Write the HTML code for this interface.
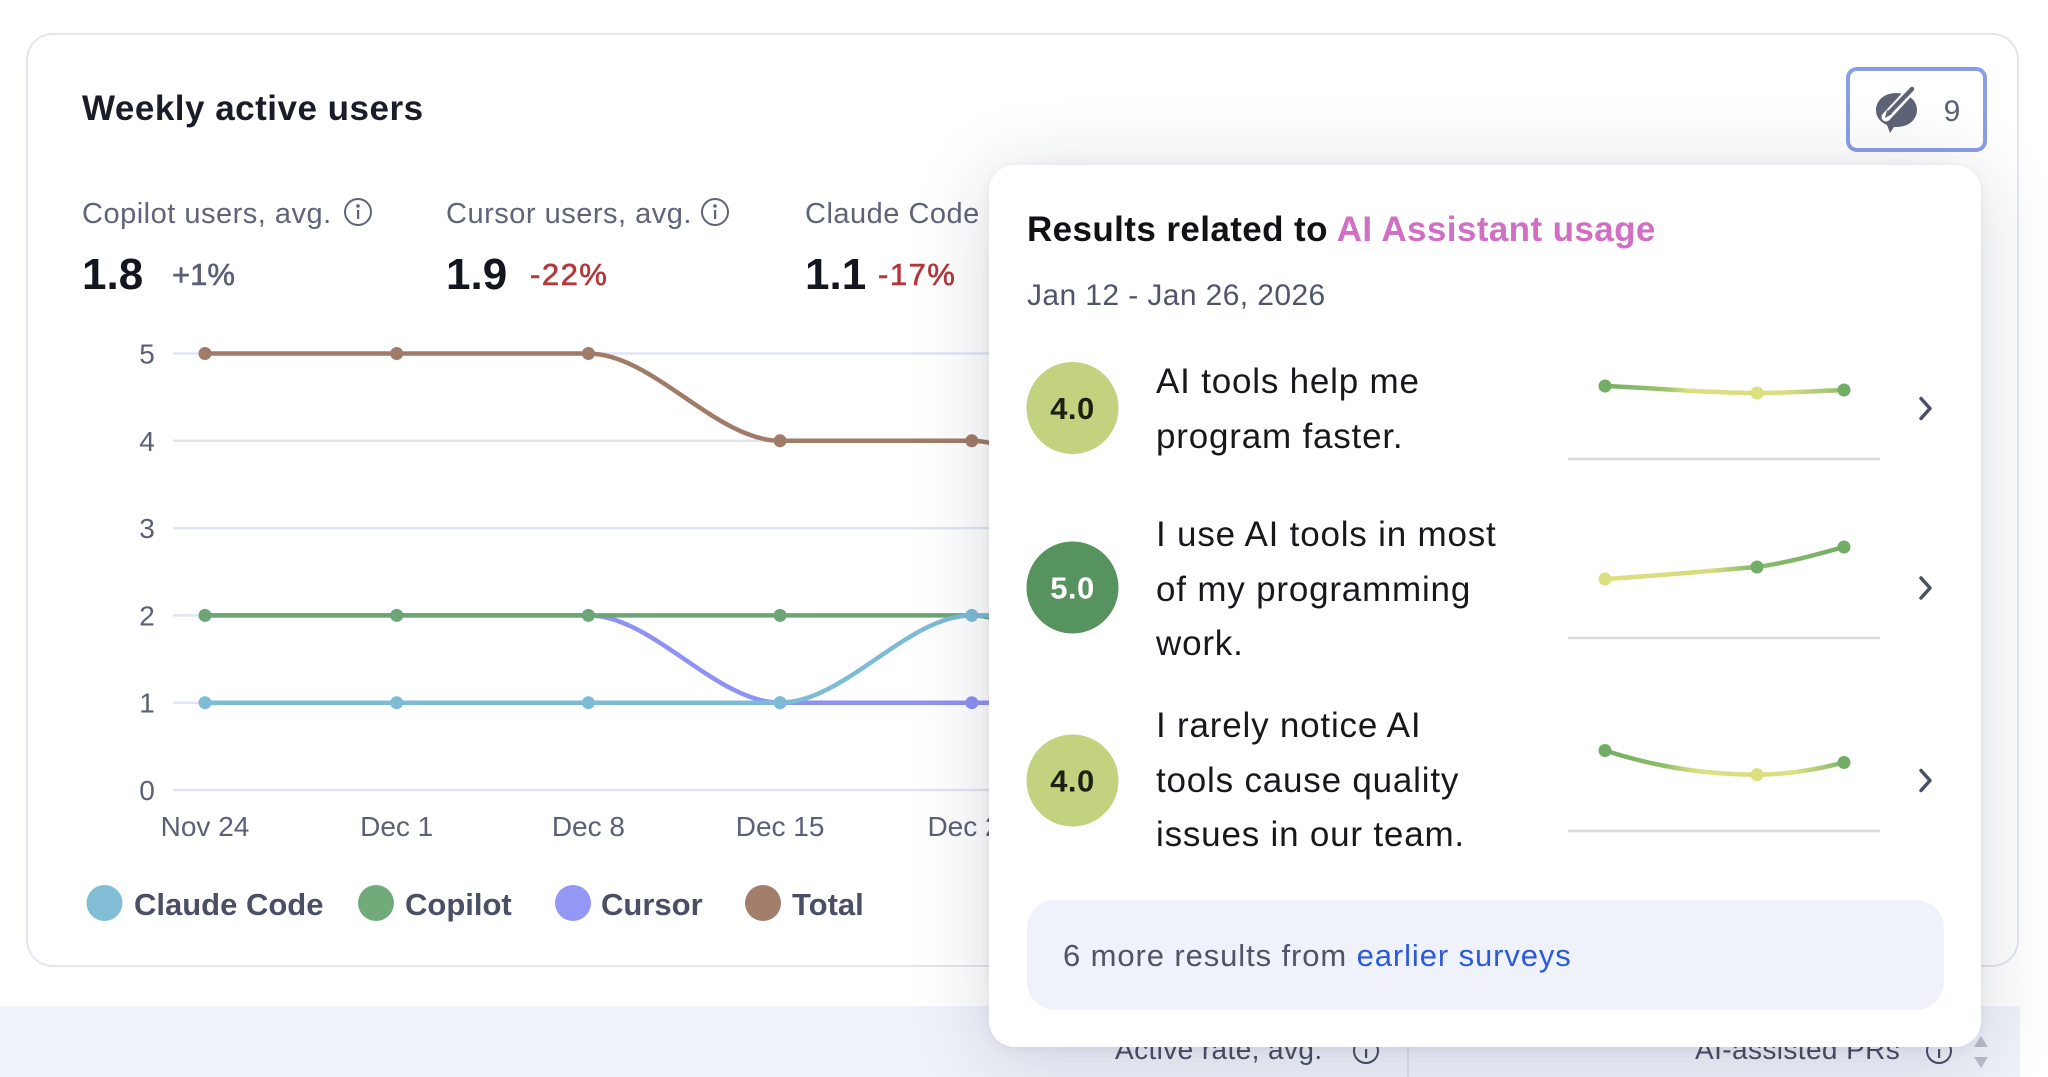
<!DOCTYPE html>
<html><head><meta charset="utf-8"><style>
html,body{margin:0;padding:0;background:#fff;width:2048px;height:1077px;overflow:hidden;font-family:"Liberation Sans",Arial,sans-serif}
svg{position:absolute;left:0;top:0}
#pop{position:absolute;left:989px;top:165px;width:992px;height:882px;border-radius:26px;background:#fff;box-shadow:0 10px 80px rgba(25,30,60,0.16),0 2px 12px rgba(25,30,60,0.06)}
</style></head><body>
<svg width="2048" height="1077" viewBox="0 0 2048 1077" font-family="Liberation Sans, Arial, sans-serif">
  <!-- bottom band -->
  <rect x="0" y="1006" width="2020" height="71" fill="#eff2fa"/>
  <text x="1115" y="1059" font-size="28" fill="#4a4f66" letter-spacing="0.4">Active rate, avg.</text>
  <circle cx="1366" cy="1051" r="12" fill="none" stroke="#4a4f66" stroke-width="2"/>
  <rect x="1365" y="1049" width="2.2" height="9" fill="#4a4f66"/>
  <line x1="1408" y1="1040" x2="1408" y2="1077" stroke="#dde0ea" stroke-width="2"/>
  <text x="1695" y="1059" font-size="28" fill="#4a4f66" letter-spacing="0.4">AI-assisted PRs</text>
  <circle cx="1939" cy="1051" r="12" fill="none" stroke="#4a4f66" stroke-width="2"/>
  <rect x="1938" y="1049" width="2.2" height="9" fill="#4a4f66"/>
  <path d="M1974,1047 L1981,1036 L1988,1047 Z" fill="#b9bdc9"/>
  <path d="M1974,1057 L1981,1068 L1988,1057 Z" fill="#b9bdc9"/>

  <!-- card -->
  <rect x="27" y="34" width="1991" height="932" rx="26" fill="#fff" stroke="#e3e6f2" stroke-width="2"/>
  <text x="82" y="120" font-size="35" font-weight="bold" fill="#1a1c28" letter-spacing="0.5">Weekly active users</text>

  <!-- button -->
  <rect x="1848" y="69" width="137" height="81" rx="9" fill="#fff" stroke="#8a9de8" stroke-width="4"/>
  <path d="M1896,93 C1908,93 1917,100 1917,110 C1917,120 1908,127 1897,127 L1894,127 L1890,133 L1887,125 C1880,122 1876,117 1876,110 C1876,100 1885,93 1896,93 Z" fill="#5f6378"/>
  <line x1="1886" y1="117" x2="1913" y2="88" stroke="#fff" stroke-width="9" stroke-linecap="round"/>
  <line x1="1890" y1="112" x2="1912" y2="89" stroke="#5f6378" stroke-width="4.5" stroke-linecap="round"/>
  <path d="M1885,118 L1887,110 L1892,114 Z" fill="#5f6378"/>
  <text x="1952" y="121" font-size="30" fill="#5b6078" text-anchor="middle">9</text>

  <!-- KPIs -->
  <g font-size="29" fill="#5f6479" letter-spacing="0.5">
    <text x="82" y="223">Copilot users, avg.</text>
    <text x="446" y="223">Cursor users, avg.</text>
    <text x="805" y="223">Claude Code users, avg.</text>
  </g>
  <g fill="none" stroke="#5f6479" stroke-width="2">
    <circle cx="358" cy="212" r="13"/>
    <circle cx="715" cy="212" r="13"/>
  </g>
  <g fill="#5f6479">
    <circle cx="358" cy="206" r="1.8"/><rect x="357" y="210" width="2.2" height="9"/>
    <circle cx="715" cy="206" r="1.8"/><rect x="714" y="210" width="2.2" height="9"/>
  </g>
  <g font-size="44" font-weight="bold" fill="#14161f">
    <text x="82" y="289">1.8</text>
    <text x="446" y="289">1.9</text>
    <text x="805" y="289">1.1</text>
  </g>
  <g font-size="31" stroke-width="0.6">
    <text x="172" y="285" fill="#5b6078" stroke="#5b6078">+1%</text>
    <text x="530" y="285" fill="#b3373b" stroke="#b3373b" letter-spacing="1.5">-22%</text>
    <text x="878" y="285" fill="#b3373b" stroke="#b3373b" letter-spacing="1.5">-17%</text>
  </g>

  <!-- grid -->
  <g stroke="#e1e5f4" stroke-width="2.5">
    <line x1="173" y1="353.5" x2="1900" y2="353.5"/>
    <line x1="173" y1="440.8" x2="1900" y2="440.8"/>
    <line x1="173" y1="528.1" x2="1900" y2="528.1"/>
    <line x1="173" y1="615.4" x2="1900" y2="615.4"/>
    <line x1="173" y1="702.7" x2="1900" y2="702.7"/>
    <line x1="173" y1="790" x2="1900" y2="790"/>
  </g>
  <g font-size="28" fill="#5b6078" text-anchor="middle">
    <text x="147" y="363.5">5</text>
    <text x="147" y="450.8">4</text>
    <text x="147" y="538.1">3</text>
    <text x="147" y="625.4">2</text>
    <text x="147" y="712.7">1</text>
    <text x="147" y="800">0</text>
    <text x="205" y="836">Nov 24</text>
    <text x="396.7" y="836">Dec 1</text>
    <text x="588.4" y="836">Dec 8</text>
    <text x="780.1" y="836">Dec 15</text>
    <text x="971.8" y="836">Dec 22</text>
  </g>

  <!-- series -->
  <g fill="none" stroke-width="4.5" stroke-linecap="round">
    <path d="M205,615.4 H588.4 C652.3,615.4 716.2,702.7 780.1,702.7 H1163.5" stroke="#8d92f4"/>
    <path d="M205,615.4 H971.8 C1035.7,615.4 1099.6,702.7 1163.5,702.7" stroke="#6da676"/>
    <path d="M205,702.7 H780.1 C844,702.7 907.9,615.4 971.8,615.4 H1163" stroke="#7ebbd5"/>
    <path d="M205,353.5 H588.4 C652.3,353.5 716.2,440.8 780.1,440.8 H971.8 C1035.7,440.8 1099.6,528.1 1163.5,528.1" stroke="#a07b68"/>
  </g>
  <g fill="#8d92f4"><circle cx="780.1" cy="702.7" r="6.5"/><circle cx="971.8" cy="702.7" r="6.5"/></g>
  <g fill="#6da676"><circle cx="205" cy="615.4" r="6.5"/><circle cx="396.7" cy="615.4" r="6.5"/><circle cx="588.4" cy="615.4" r="6.5"/><circle cx="780.1" cy="615.4" r="6.5"/></g>
  <g fill="#7ebbd5"><circle cx="205" cy="702.7" r="6.5"/><circle cx="396.7" cy="702.7" r="6.5"/><circle cx="588.4" cy="702.7" r="6.5"/><circle cx="780.1" cy="702.7" r="6.5"/><circle cx="971.8" cy="615.4" r="6.5"/></g>
  <g fill="#a07b68"><circle cx="205" cy="353.5" r="6.5"/><circle cx="396.7" cy="353.5" r="6.5"/><circle cx="588.4" cy="353.5" r="6.5"/><circle cx="780.1" cy="440.8" r="6.5"/><circle cx="971.8" cy="440.8" r="6.5"/></g>

  <!-- legend -->
  <circle cx="104.5" cy="903" r="18" fill="#82bdd6"/>
  <circle cx="376" cy="903" r="18" fill="#72aa7a"/>
  <circle cx="573" cy="903" r="18" fill="#9398f6"/>
  <circle cx="763" cy="903" r="18" fill="#a27e6b"/>
  <g font-size="31" font-weight="bold" fill="#4a4f66">
    <text x="134" y="915">Claude Code</text>
    <text x="405" y="915">Copilot</text>
    <text x="601" y="915">Cursor</text>
    <text x="792" y="915">Total</text>
  </g>
</svg>

<div id="pop"></div>

<svg width="2048" height="1077" viewBox="0 0 2048 1077" font-family="Liberation Sans, Arial, sans-serif">
  <defs>
    <linearGradient id="g1" gradientUnits="userSpaceOnUse" x1="1605" y1="0" x2="1844" y2="0">
      <stop offset="0" stop-color="#72ad65"/><stop offset="0.25" stop-color="#9cc46f"/><stop offset="0.35" stop-color="#dcdf7f"/><stop offset="0.75" stop-color="#dcdf7f"/><stop offset="1" stop-color="#8fbd6c"/>
    </linearGradient>
    <linearGradient id="g2" gradientUnits="userSpaceOnUse" x1="1605" y1="0" x2="1844" y2="0">
      <stop offset="0" stop-color="#dcdf7f"/><stop offset="0.45" stop-color="#d5dc7c"/><stop offset="0.6" stop-color="#8fbd6c"/><stop offset="1" stop-color="#72ad65"/>
    </linearGradient>
    <linearGradient id="g3" gradientUnits="userSpaceOnUse" x1="1605" y1="0" x2="1844" y2="0">
      <stop offset="0" stop-color="#72ad65"/><stop offset="0.25" stop-color="#8fbd6c"/><stop offset="0.38" stop-color="#dcdf7f"/><stop offset="0.8" stop-color="#dcdf7f"/><stop offset="1" stop-color="#7fb468"/>
    </linearGradient>
  </defs>

  <text x="1027" y="241" font-size="35" font-weight="bold" fill="#111216" letter-spacing="0.4">Results related to <tspan fill="#d06fc3">AI Assistant usage</tspan></text>
  <text x="1027" y="305" font-size="30" fill="#50556a" letter-spacing="0.4">Jan 12 - Jan 26, 2026</text>

  <!-- row circles -->
  <circle cx="1072.5" cy="408" r="46" fill="#c2d27f"/>
  <circle cx="1072.5" cy="587.5" r="46" fill="#57935f"/>
  <circle cx="1072.5" cy="780.5" r="46" fill="#c2d27f"/>
  <g font-size="31" font-weight="bold" text-anchor="middle" letter-spacing="0.5">
    <text x="1072.5" y="419" fill="#1c2213">4.0</text>
    <text x="1072.5" y="598.5" fill="#ffffff">5.0</text>
    <text x="1072.5" y="791.5" fill="#1c2213">4.0</text>
  </g>

  <g font-size="35" fill="#17181c" letter-spacing="0.8">
    <text x="1156" y="393">AI tools help me</text>
    <text x="1156" y="448">program faster.</text>
    <text x="1156" y="546">I use AI tools in most</text>
    <text x="1156" y="601">of my programming</text>
    <text x="1156" y="655">work.</text>
    <text x="1156" y="737">I rarely notice AI</text>
    <text x="1156" y="792">tools cause quality</text>
    <text x="1156" y="846">issues in our team.</text>
  </g>

  <!-- sparkline baselines -->
  <g stroke="#d9d9de" stroke-width="2.5">
    <line x1="1568" y1="459" x2="1880" y2="459"/>
    <line x1="1568" y1="638" x2="1880" y2="638"/>
    <line x1="1568" y1="831" x2="1880" y2="831"/>
  </g>
  <g fill="none" stroke-width="4.5" stroke-linecap="round">
    <path d="M1605,386 C1656,388 1706,393 1757,393 C1786,393 1815,391 1844,390" stroke="url(#g1)"/>
    <path d="M1605,579 C1656,576 1706,571 1757,567 C1786,563 1815,555 1844,547" stroke="url(#g2)"/>
    <path d="M1605,750.5 C1656,767 1706,774.6 1757,774.6 C1786,774.6 1815,770 1844,762.5" stroke="url(#g3)"/>
  </g>
  <circle cx="1605" cy="386" r="6.5" fill="#72ad65"/>
  <circle cx="1757" cy="393" r="6.5" fill="#dcdf7f"/>
  <circle cx="1844" cy="390" r="6.5" fill="#72ad65"/>
  <circle cx="1605" cy="579" r="6.5" fill="#dcdf7f"/>
  <circle cx="1757" cy="567" r="6.5" fill="#72ad65"/>
  <circle cx="1844" cy="547" r="6.5" fill="#72ad65"/>
  <circle cx="1605" cy="750.5" r="6.5" fill="#72ad65"/>
  <circle cx="1757" cy="774.6" r="6.5" fill="#dcdf7f"/>
  <circle cx="1844" cy="762.5" r="6.5" fill="#72ad65"/>

  <!-- chevrons -->
  <g fill="none" stroke="#4a4f66" stroke-width="3.5" stroke-linecap="round" stroke-linejoin="round">
    <polyline points="1921,398.5 1930,408.5 1921,418.5"/>
    <polyline points="1921,578 1930,588 1921,598"/>
    <polyline points="1921,770.5 1930,780.5 1921,790.5"/>
  </g>

  <!-- footer -->
  <rect x="1027" y="900" width="917" height="110" rx="28" fill="#eff2fa"/>
  <text x="1063" y="966" font-size="31" fill="#4f5468" letter-spacing="0.9">6 more results from <tspan fill="#2d5bd8">earlier surveys</tspan></text>
</svg>
</body></html>
